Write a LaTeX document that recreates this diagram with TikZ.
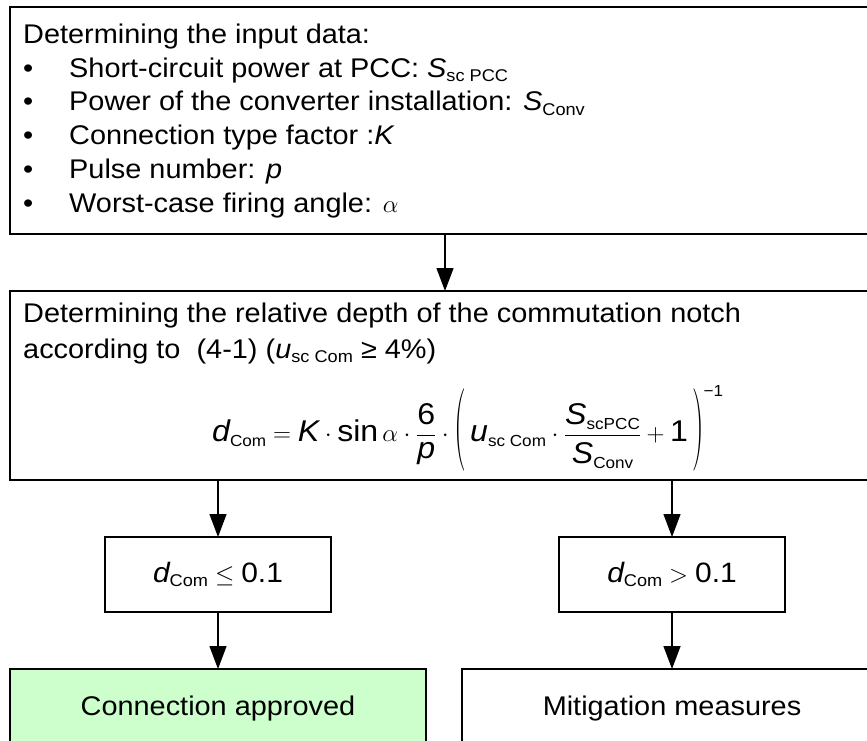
\documentclass[tikz,border=0pt]{standalone}
\usepackage{fontspec}
\setmainfont{Liberation Sans}[FakeStretch=1.07]
\newfontfamily\brfont{Latin Modern Roman}
\usetikzlibrary{arrows.meta}
\definecolor{okgreen}{HTML}{CCFFCC}
% italic variable, lowered subscript and tall thin bracket helpers
\newcommand\iv[1]{\mbox{\itshape #1}}
\newcommand\lo[2][16]{\raisebox{-0.32ex}{\fontsize{#1}{#1}\selectfont #2}}
\newcommand\tallbr[1]{\raisebox{-9pt}{\scalebox{1.1}[2.75]{\fontsize{30}{30}\brfont #1}}}
\begin{document}
\begin{tikzpicture}[x=1pt,y=-1pt,
  boxs/.style={draw, line width=1.6pt, inner sep=0pt, outer sep=0pt},
  arr/.style={-{Triangle[length=23pt,width=17pt]}, line width=1.3pt},
  txt/.style={anchor=base west, inner sep=0pt, font=\fontsize{27}{33}\selectfont},
  bul/.style={anchor=base west, inner sep=0pt, font=\fontsize{27}{33}\selectfont}]
\useasboundingbox (0,0) rectangle (867,740);
\clip (0,0) rectangle (867,740);
\fill[white] (0,0) rectangle (867,740);

% boxes
\node[boxs, minimum width=870pt, minimum height=227pt] (inputs) at (445,120.5) {};
\node[boxs, minimum width=870pt, minimum height=189pt] (notch) at (445,385.5) {};
\node[boxs, minimum width=226pt, minimum height=75pt] (ok) at (218,574.5) {};
\node[boxs, minimum width=226pt, minimum height=75pt] (bad) at (672,574.5) {};
\node[boxs, fill=okgreen, minimum width=416pt, minimum height=121pt] (approved) at (218,729.5) {};
\node[boxs, minimum width=420pt, minimum height=121pt] (mitig) at (672,729.5) {};

% input data list
\node[txt] (t1) at (23,43.3) {Determining the input data:};
\foreach \i/\y in {2/77.1,3/110.9,4/144.7,5/178.5,6/212.3}
  \node[bul] (b\i) at (23,\y) {•};
\node[txt] (t2) at (69,77.1) {Short-circuit power at PCC: \textit{S}\lo[17]{sc PCC}};
\node[txt] (t3) at (69,110.9) {Power of the converter installation: \textit{S}\lo[17]{Conv}};
\node[txt] (t4) at (69,144.7) {Connection type factor :\textit{K}};
\node[txt] (t5) at (69,178.5) {Pulse number: \textit{p}};
\node[txt] (t6) at (69,212.3) {Worst-case firing angle: $\alpha$};

% notch depth text and formula
\node[txt] (n1) at (23,322) {Determining the relative depth of the commutation notch};
\node[txt] (n2) at (23,358) {according to\ \ (4-1) (\textit{u}\lo[17]{sc Com} ≥ 4\%)};
\node[anchor=base west, inner sep=0pt, font=\fontsize{30}{36}\selectfont] (formula) at (212,441)
  {$\displaystyle \iv{d}\lo{Com} = \iv{K}\cdot\mathop{\mbox{sin}}\nolimits\alpha\cdot
   \frac{\mbox{6}}{\iv{p}}\cdot
   \mathopen{\tallbr{(}}\,\iv{u}\lo{sc Com}\cdot
   \frac{\iv{S}\lo{scPCC}\rule[-5pt]{0pt}{1pt}}{\rule{0pt}{27pt}\iv{S}\lo{Conv}}+\mbox{1}\,
   \mathclose{\tallbr{)}}^{\mbox{\fontsize{16}{16}\selectfont −1}}$};

% decision texts
\node[inner sep=0pt, font=\fontsize{28}{34}\selectfont] (okt) at (ok.center)
  {$\iv{d}\lo[17]{Com}\leq\mbox{0.1}$};
\node[inner sep=0pt, font=\fontsize{28}{34}\selectfont] (badt) at (bad.center)
  {$\iv{d}\lo[17]{Com}>\mbox{0.1}$};

% outcomes
\node[anchor=base, inner sep=0pt, font=\fontsize{27}{33}\selectfont] (at) at (218,715) {Connection approved};
\node[anchor=base, inner sep=0pt, font=\fontsize{27}{33}\selectfont] (mt) at (672,715) {Mitigation measures};

% connectors
\draw[arr] (inputs.south) -- (notch.north);
\draw[arr] (notch.south -| ok.north) -- (ok.north);
\draw[arr] (notch.south -| bad.north) -- (bad.north);
\draw[arr] (ok.south) -- (approved.north);
\draw[arr] (bad.south) -- (mitig.north);
\end{tikzpicture}
\end{document}
